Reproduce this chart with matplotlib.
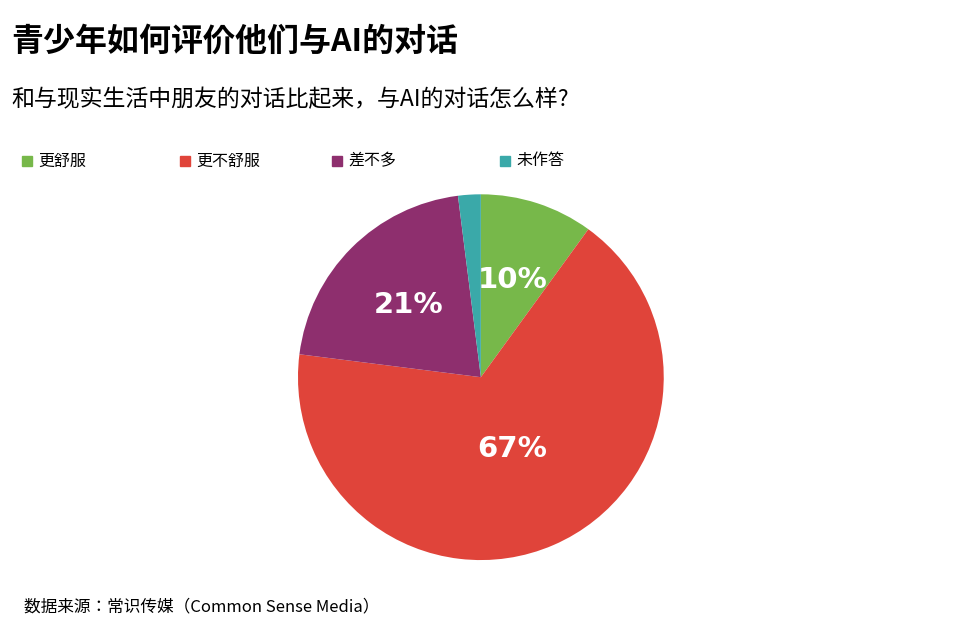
import matplotlib
matplotlib.use("Agg")
import matplotlib.pyplot as plt
import numpy as np

CJK = ["Noto Sans CJK SC", "Noto Sans CJK JP", "Noto Sans CJK TC", "Noto Sans CJK KR", "DejaVu Sans"]
plt.rcParams["font.family"] = CJK

categories = ["更舒服", "更不舒服", "差不多", "未作答"]
values = [10, 67, 21, 2]
labels = ["10%", "67%", "21%", ""]
colors = ["#77b84a", "#e0443a", "#8e2f6e", "#3aa9a9"]

fig = plt.figure(figsize=(9.6, 6.35), dpi=100)
fig.patch.set_facecolor("white")

fig.text(0.012, 0.935, "青少年如何评价他们与AI的对话", fontsize=23, fontweight="bold", va="center", family=CJK)
fig.text(0.012, 0.843, "和与现实生活中朋友的对话比起来，与AI的对话怎么样?", fontsize=16.5, va="center", family=CJK)

lx = [22, 180, 332, 500]
for x, c, t in zip(lx, colors, categories):
    fig.patches.append(plt.Rectangle((x / 960, 1 - 166 / 635), 10 / 960, 10 / 635,
                                     transform=fig.transFigure, color=c))
    fig.text((x + 16) / 960, 1 - 161 / 635, t, fontsize=11.5, va="center", family=CJK)

ax = fig.add_axes([0.3104, 0.118, 0.381, 0.576])
wedges, _ = ax.pie(values, colors=colors, startangle=90, counterclock=False,
                   wedgeprops=dict(linewidth=0))
dists = [0.56, 0.43, 0.56, 0.5]
for w, lab, d in zip(wedges, labels, dists):
    if not lab:
        continue
    ang = np.deg2rad((w.theta1 + w.theta2) / 2)
    ax.text(d * np.cos(ang), d * np.sin(ang), lab, color="white", fontsize=21,
            fontweight="bold", ha="center", va="center", fontfamily="DejaVu Sans")
ax.set_xlim(-1, 1)
ax.set_ylim(-1, 1)
ax.set_aspect("equal")
ax.axis("off")

fig.text(0.025, 0.045, "数据来源：常识传媒（Common Sense Media）", fontsize=12, va="center", family=CJK)

fig.savefig("out.png", dpi=100, facecolor="white")
